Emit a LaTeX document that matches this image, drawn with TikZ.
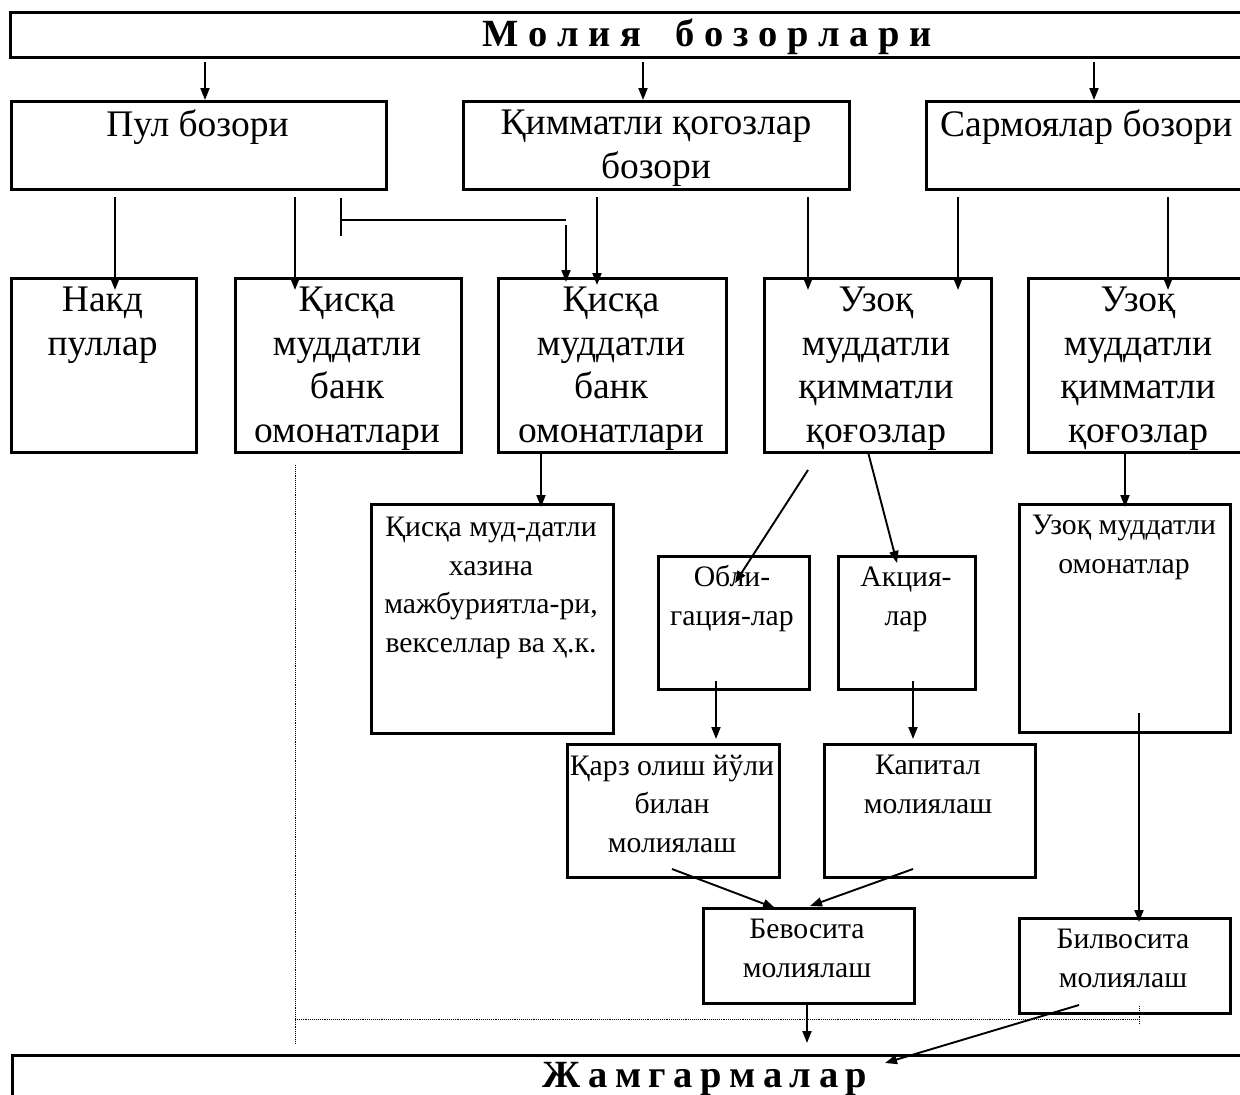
\documentclass[tikz,border=0pt]{standalone}
\usepackage{fontspec}
\setmainfont{Liberation Serif}
\usetikzlibrary{arrows.meta,calc}
\newcommand\lsp{\hspace{7.5pt}}
\begin{document}
\begin{tikzpicture}[x=1pt,y=-1pt,
  box/.style={draw, line width=2.5pt, inner sep=0pt, anchor=north west},
  arr/.style={line width=1.9pt, -{Triangle[length=12pt,width=9pt]}},
  ln/.style={line width=1.9pt},
  dotl/.style={line width=0.9pt, densely dotted},
  big/.style={font=\fontsize{37.5}{43.5}\selectfont, align=center, inner sep=0pt, anchor=base},
  small/.style={font=\fontsize{29.7}{38.5}\selectfont, align=center, inner sep=0pt, anchor=base},
  ttl/.style={font=\fontsize{38.5}{44}\selectfont\bfseries, inner sep=0pt, anchor=base}]
\useasboundingbox (0,0) rectangle (1240,1095);
\fill[white] (0,0) rectangle (1240,1095);
% boxes
\node[box, minimum width=1240pt, minimum height=45pt] (top) at (9,11) {};
\node[box, minimum width=375pt, minimum height=88pt] (pul) at (10,100) {};
\node[box, minimum width=386pt, minimum height=88pt] (qim) at (462,100) {};
\node[box, minimum width=330pt, minimum height=88pt] (sar) at (925,100) {};
\node[box, minimum width=185pt, minimum height=174pt] (nakd) at (10,277) {};
\node[box, minimum width=226pt, minimum height=174pt] (qis1) at (234,277) {};
\node[box, minimum width=228pt, minimum height=174pt] (qis2) at (497,277) {};
\node[box, minimum width=227pt, minimum height=174pt] (uzq1) at (763,277) {};
\node[box, minimum width=230pt, minimum height=174pt] (uzq2) at (1027,277) {};
\node[box, minimum width=242pt, minimum height=229pt] (xaz) at (370,503) {};
\node[box, minimum width=151pt, minimum height=133pt] (obl) at (657,555) {};
\node[box, minimum width=137pt, minimum height=133pt] (akc) at (837,555) {};
\node[box, minimum width=211pt, minimum height=228pt] (omn) at (1018,503) {};
\node[box, minimum width=212pt, minimum height=133pt] (qarz) at (566,743) {};
\node[box, minimum width=211pt, minimum height=133pt] (kap) at (823,743) {};
\node[box, minimum width=211pt, minimum height=95pt] (bev) at (702,907) {};
\node[box, minimum width=211pt, minimum height=95pt] (bil) at (1018,917) {};
\node[box, minimum width=1240pt, minimum height=60pt] (jam) at (11,1054) {};
% texts (anchor = baseline of last line)
\node[ttl] (tTop) at (707,46) {М о л и я\hspace{34pt}б о з о р л а р и};
\node[big] (tPul) at (197.5,136) {Пул бозори};
\node[big] (tQim) at (656,178) {Қимматли қогозлар\\бозори};
\node[big, anchor=base west] (tSar) at (940,136) {Сармоялар бозори};
\node[big] (tNakd) at (102.5,355) {Накд\\пуллар};
\node[big] (tQis1) at (347,442) {Қисқа\\муддатли\\банк\\омонатлари};
\node[big] (tQis2) at (611,442) {Қисқа\\муддатли\\банк\\омонатлари};
\node[big] (tUzq1) at (876,442) {Узоқ\\муддатли\\қимматли\\қоғозлар};
\node[big] (tUzq2) at (1138,442) {Узоқ\\муддатли\\қимматли\\қоғозлар};
\node[small] (tXaz) at (491,652) {Қисқа муд-датли\\хазина\\мажбуриятла-ри,\\векселлар ва ҳ.к.};
\node[small] (tObl) at (732,625) {Обли-\\гация-лар};
\node[small] (tAkc) at (906,625) {Акция-\\лар};
\node[small] (tOmn) at (1124,573) {Узоқ муддатли\\омонатлар};
\node[small] (tQarz) at (672,852) {Қарз олиш йўли\\билан\\молиялаш};
\node[small] (tKap) at (928,813) {Капитал\\молиялаш};
\node[small] (tBev) at (807,977) {Бевосита\\молиялаш};
\node[small] (tBil) at (1123,987) {Билвосита\\молиялаш};
\node[ttl] (tJam) at (705,1087) {Ж\lsp а\lsp м\lsp г\lsp а\lsp р\lsp м\lsp а\lsp л\lsp а\lsp р};
% connector start points
\coordinate (s1) at (205,62);
\coordinate (s2) at (643,62);
\coordinate (s3) at (1094,62);
\coordinate (s4) at (115,197);
\coordinate (s5) at (295,197);
\coordinate (s7) at (597,197);
\coordinate (s8) at (808,197);
\coordinate (s9) at (958,197);
\coordinate (s10) at (1168,197);
\coordinate (s11) at (541,451);
\coordinate (s12) at (1125,451);
\coordinate (s13) at (808,470);
\coordinate (e13) at (735,583);
\coordinate (s14) at (868,452);
\coordinate (e14) at (897,563);
\coordinate (s15) at (716,681);
\coordinate (s16) at (913,681);
\coordinate (s17) at (672,869);
\coordinate (e17) at (775,908);
\coordinate (s18) at (913,869);
\coordinate (e18) at (810,906);
\coordinate (s19) at (807,1005);
\coordinate (s20) at (1079,1005);
\coordinate (e20) at (885,1063);
\coordinate (s21) at (1139,713);
% arrows
\draw[arr] (s1) -- (s1 |- pul.north);
\draw[arr] (s2) -- (s2 |- qim.north);
\draw[arr] (s3) -- (s3 |- sar.north);
\draw[arr] (s4) -- ($(s4 |- nakd.north)+(0,13)$);
\draw[arr] (s5) -- ($(s5 |- qis1.north)+(0,13)$);
\coordinate (t1) at (341,198);
\coordinate (t2) at (341,236);
\coordinate (t3) at (341,220);
\coordinate (t4) at (566,220);
\coordinate (t5) at (566,225);
\draw[ln] (t1) -- (t2);
\draw[ln] (t3) -- (t4);
\draw[arr] (t5) -- ($(t5 |- qis2.north)+(0,5)$);
\draw[arr] (s7) -- ($(s7 |- qis2.north)+(0,8)$);
\draw[arr] (s8) -- ($(s8 |- uzq1.north)+(0,13)$);
\draw[arr] (s9) -- ($(s9 |- uzq1.north)+(0,13)$);
\draw[arr] (s10) -- ($(s10 |- uzq2.north)+(0,13)$);
\draw[arr] (s11) -- ($(s11 |- xaz.north)+(0,4)$);
\draw[arr] (s12) -- ($(s12 |- omn.north)+(0,4)$);
\draw[arr] (s13) -- (e13);
\draw[arr] (s14) -- (e14);
\draw[arr] (s15) -- ($(s15 |- qarz.north)+(0,-4)$);
\draw[arr] (s16) -- ($(s16 |- kap.north)+(0,-4)$);
\draw[arr] (s17) -- (e17);
\draw[arr] (s18) -- (e18);
\draw[arr] (s19) -- ($(s19 |- jam.north)+(0,-11)$);
\draw[arr] (s20) -- (e20);
\draw[arr] (s21) -- ($(s21 |- bil.north)+(0,5)$);
% dotted guide lines
\coordinate (d1) at (295,465);
\coordinate (d2) at (295,1043);
\coordinate (d3) at (295,1019);
\coordinate (d4) at (1139,1019);
\coordinate (d5) at (1139,1006);
\coordinate (d6) at (1139,1025);
\draw[dotl] (d1) -- (d2);
\draw[dotl] (d3) -- (d4);
\draw[dotl] (d5) -- (d6);
\end{tikzpicture}
\end{document}
